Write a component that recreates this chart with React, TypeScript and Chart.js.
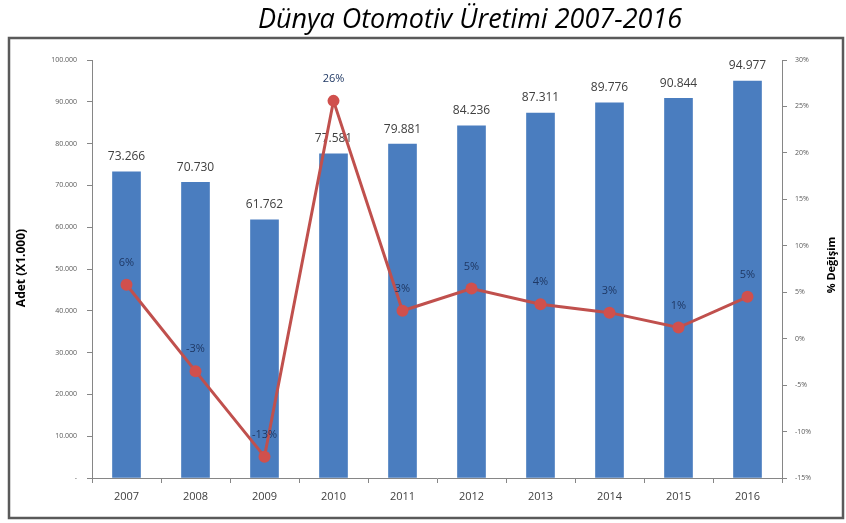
import React, { useEffect, useRef } from "react";
import { Chart, registerables } from "chart.js";

Chart.register(...registerables);

const years = ["2007", "2008", "2009", "2010", "2011", "2012", "2013", "2014", "2015", "2016"];
const production = [73266, 70730, 61762, 77581, 79881, 84236, 87311, 89776, 90844, 94977];
const changePct = [5.8, -3.5, -12.7, 25.6, 3.0, 5.4, 3.7, 2.8, 1.2, 4.5];
const titleText = "Dünya Otomotiv Üretimi 2007-2016";
const leftAxisTitle = "Adet (X1.000)";
const rightAxisTitle = "% Değişim";

const fmtThousands = (v: number) => {
  if (v === 0) return "-";
  return Math.round(v).toString().replace(/\B(?=(\d{3})+(?!\d))/g, ".");
};

export default function App() {
  const ref = useRef<HTMLCanvasElement>(null);
  useEffect(() => {
    if (!ref.current) return;
    const framePlugin = {
      id: "frameAndTitle",
      beforeDraw(chart: any) {
        const ctx = chart.ctx;
        ctx.save();
        ctx.fillStyle = "#ffffff";
        ctx.fillRect(0, 0, chart.width, chart.height);
        ctx.strokeStyle = "#5a5a5a";
        ctx.lineWidth = 2.5;
        ctx.strokeRect(9, 38, 834, 480);
        ctx.fillStyle = "#000000";
        ctx.font = "italic 27px 'Open Sans'";
        ctx.textAlign = "center";
        ctx.textBaseline = "alphabetic";
        ctx.fillText(titleText, 470, 28);
        // axis titles (both read bottom-to-top)
        ctx.font = "bold 12px 'Open Sans'";
        ctx.textBaseline = "middle";
        ctx.save();
        ctx.translate(22, 268);
        ctx.rotate(-Math.PI / 2);
        ctx.fillText(leftAxisTitle, 0, 0);
        ctx.restore();
        ctx.font = "bold 11px 'Open Sans'";
        ctx.save();
        ctx.translate(832, 265);
        ctx.rotate(-Math.PI / 2);
        ctx.fillText(rightAxisTitle, 0, 0);
        ctx.restore();
        ctx.restore();
      },
      afterDatasetDraw(chart: any, args: any) {
        if (args.index !== 0) return;
        const ctx = chart.ctx;
        const meta = chart.getDatasetMeta(0);
        ctx.save();
        ctx.font = "12px 'Open Sans'";
        ctx.fillStyle = "#404040";
        ctx.textAlign = "center";
        ctx.textBaseline = "middle";
        meta.data.forEach((el: any, i: number) => {
          ctx.fillText(fmtThousands(production[i]), el.x, el.y - 15);
        });
        ctx.restore();
      },
      afterDatasetsDraw(chart: any) {
        const ctx = chart.ctx;
        const meta = chart.getDatasetMeta(1);
        ctx.save();
        ctx.font = "11px 'Open Sans'";
        ctx.fillStyle = "#1f3864";
        ctx.textAlign = "center";
        ctx.textBaseline = "middle";
        meta.data.forEach((el: any, i: number) => {
          ctx.fillText(Math.round(changePct[i]) + "%", el.x, el.y - 22);
        });
        ctx.restore();
      },
    };
    const chart = new Chart(ref.current, {
      type: "bar",
      data: {
        labels: years,
        datasets: [
          {
            type: "bar",
            label: "Adet",
            data: production,
            backgroundColor: "#4a7dbf",
            barThickness: 28,
            yAxisID: "y",
            order: 1,
          },
          {
            type: "line",
            label: "% Değişim",
            data: changePct,
            borderColor: "#c0504d",
            backgroundColor: "#d0504d",
            borderWidth: 3,
            pointRadius: 6,
            pointBorderWidth: 0,
            pointStyle: "circle",
            yAxisID: "y1",
            order: 0,
          } as any,
        ],
      },
      plugins: [framePlugin],
      options: {
        animation: false,
        responsive: false,
        maintainAspectRatio: false,
        layout: { padding: { left: 12, right: 4, top: 60, bottom: 0 } },
        plugins: {
          legend: { display: false },
          tooltip: { enabled: false },
          title: { display: false },
        },
        scales: {
          x: {
            offset: true,
            grid: {
              offset: true,
              drawOnChartArea: false,
              drawTicks: true,
              tickLength: 5,
              color: "#868686",
            },
            border: { display: true, color: "#868686", width: 1 },
            ticks: { color: "#404040", font: { family: "'Open Sans'", size: 11 }, padding: 7 },
            afterFit(scale: any) {
              scale.height = 45;
            },
          },
          y: {
            position: "left",
            min: 0,
            max: 100000,
            ticks: {
              stepSize: 10000,
              color: "#595959",
              font: { family: "'Open Sans'", size: 7 },
              padding: 10,
              callback: (v: any) => fmtThousands(Number(v)),
            },
            grid: { drawOnChartArea: false, drawTicks: true, tickLength: 5, color: "#868686" },
            border: { display: true, color: "#868686", width: 1 },
            afterFit(scale: any) {
              scale.width = 80;
            },
          },
          y1: {
            position: "right",
            min: -15,
            max: 30,
            ticks: {
              stepSize: 5,
              color: "#595959",
              font: { family: "'Open Sans'", size: 7 },
              padding: 8,
              callback: (v: any) => v + "%",
            },
            grid: { drawOnChartArea: false, drawTicks: true, tickLength: 5, color: "#868686" },
            border: { display: true, color: "#868686", width: 1 },
            afterFit(scale: any) {
              scale.width = 60;
            },
          },
        },
      },
    });
    return () => chart.destroy();
  }, []);
  return (
    <div style={{ position: "absolute", left: 0, top: 0, width: 846, height: 523, background: "#fff" }}>
      <canvas ref={ref} width={846} height={523} style={{ width: 846, height: 523, display: "block" }} />
    </div>
  );
}
